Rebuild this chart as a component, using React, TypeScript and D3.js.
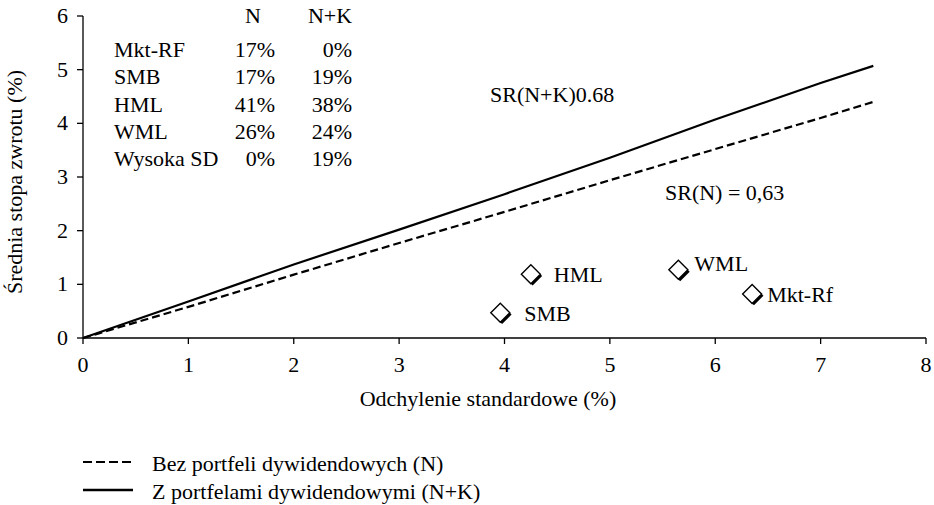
import React from "react";
import * as d3 from "d3";

// frontier lines (x = SD %, y = mean return %)
const withDiv = [
  [0, 0], [1, 0.68], [2, 1.37], [3, 2.02], [4, 2.68], [5, 3.36], [6, 4.07], [7, 4.75], [7.5, 5.07],
];
const noDiv = [
  [0, 0], [1, 0.58], [2, 1.18], [3, 1.77], [4, 2.35], [5, 2.94], [6, 3.52], [7, 4.1], [7.5, 4.4],
];

const factors = [
  { name: "SMB", sd: 3.96, ret: 0.47 },
  { name: "HML", sd: 4.25, ret: 1.19 },
  { name: "WML", sd: 5.65, ret: 1.27 },
  { name: "Mkt-Rf", sd: 6.35, ret: 0.82 },
];

const tableRows = ["Mkt-RF", "SMB", "HML", "WML", "Wysoka SD"];
const weightsN = ["17%", "17%", "41%", "26%", "0%"];
const weightsNK = ["0%", "19%", "38%", "24%", "19%"];

const xTicks = [0, 1, 2, 3, 4, 5, 6, 7, 8];
const yTicks = [0, 1, 2, 3, 4, 5, 6];

const font = "Liberation Serif, DejaVu Serif, Times New Roman, serif";

export default function App() {
  const W = 934, H = 505;
  const m = { left: 83, right: 8, top: 16, bottom: 167 };

  const x = d3.scaleLinear().domain([0, 8]).range([m.left, W - m.right]);
  const y = d3.scaleLinear().domain([0, 6]).range([H - m.bottom, m.top]);

  const line = d3.line<number[]>().x(d => x(d[0])).y(d => y(d[1]));

  const diamond = (cx: number, cy: number, r: number) =>
    `M${cx},${cy - r}L${cx + r},${cy}L${cx},${cy + r}L${cx - r},${cy}Z`;

  // label offsets relative to the marker
  const labelPos: Record<string, [number, number]> = {
    SMB: [24, 8],
    HML: [23, 8],
    WML: [16, 1],
    "Mkt-Rf": [15, 8],
  };

  const rowBase = [57, 84, 112, 139, 166];

  return (
    <svg width={W} height={H} style={{ position: "absolute", left: 0, top: 0, fontFamily: font, fontSize: 22 }}>
      <rect width={W} height={H} fill="#fff" />

      {/* axes */}
      <line x1={x(0)} x2={x(8)} y1={y(0)} y2={y(0)} stroke="#000" strokeWidth={1.3} />
      <line x1={x(0)} x2={x(0)} y1={y(0)} y2={y(6)} stroke="#000" strokeWidth={1.3} />
      {xTicks.map(t => (
        <g key={"x" + t}>
          <line x1={x(t)} x2={x(t)} y1={y(0)} y2={y(0) + 6} stroke="#000" strokeWidth={1.3} />
          <text x={x(t)} y={y(0) + 34} textAnchor="middle">{t}</text>
        </g>
      ))}
      {yTicks.map(t => (
        <g key={"y" + t}>
          <line x1={x(0) - 6} x2={x(0)} y1={y(t)} y2={y(t)} stroke="#000" strokeWidth={1.3} />
          <text x={x(0) - 15} y={y(t) + 7} textAnchor="end">{t}</text>
        </g>
      ))}

      <text x={488} y={406} textAnchor="middle">Odchylenie standardowe (%)</text>
      <text transform={`translate(22,182) rotate(-90)`} textAnchor="middle">Średnia stopa zwrotu (%)</text>

      {/* frontiers */}
      <path d={line(noDiv) || ""} fill="none" stroke="#000" strokeWidth={2.2} strokeDasharray="8,4" />
      <path d={line(withDiv) || ""} fill="none" stroke="#000" strokeWidth={2.2} />

      {/* factor points */}
      {factors.map(f => {
        const cx = x(f.sd), cy = y(f.ret);
        const [dx, dy] = labelPos[f.name];
        return (
          <g key={f.name}>
            <path d={diamond(cx + 1.8, cy + 1.8, 9.5)} fill="#000" />
            <path d={diamond(cx, cy, 9.5)} fill="#fff" stroke="#000" strokeWidth={1.4} />
            <text x={cx + dx} y={cy + dy}>{f.name}</text>
          </g>
        );
      })}

      <text x={490} y={102}>SR(N+K)0.68</text>
      <text x={665} y={200}>SR(N) = 0,63</text>

      {/* weights table */}
      <text x={253} y={23} textAnchor="middle">N</text>
      <text x={330} y={23} textAnchor="middle">N+K</text>
      {tableRows.map((r, i) => (
        <g key={r}>
          <text x={114} y={rowBase[i]}>{r}</text>
          <text x={275} y={rowBase[i]} textAnchor="end">{weightsN[i]}</text>
          <text x={352} y={rowBase[i]} textAnchor="end">{weightsNK[i]}</text>
        </g>
      ))}

      {/* legend */}
      <line x1={83} x2={133} y1={462} y2={462} stroke="#000" strokeWidth={2} strokeDasharray="9,4" />
      <text x={152} y={471}>Bez portfeli dywidendowych (N)</text>
      <line x1={83} x2={133} y1={490} y2={490} stroke="#000" strokeWidth={2.5} />
      <text x={152} y={499}>Z portfelami dywidendowymi (N+K)</text>
    </svg>
  );
}
